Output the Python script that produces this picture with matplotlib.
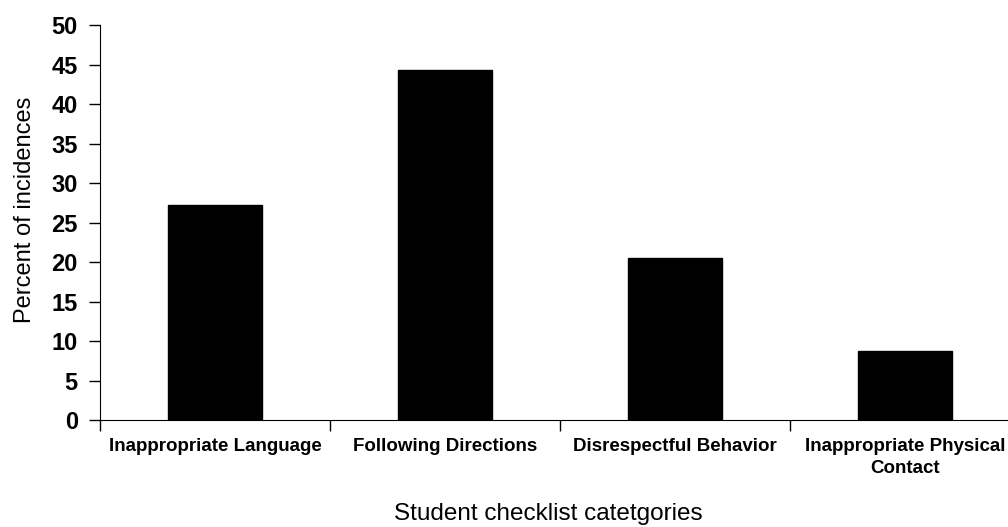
import matplotlib.pyplot as plt
import numpy as np

# Student checklist data
categories = ['Inappropriate Language', 'Following Directions',
              'Disrespectful Behavior', 'Inappropriate Physical\nContact']
percents = [27.2, 44.3, 20.5, 8.7]
y_ticks = list(range(0, 55, 5))

plt.rcParams['font.family'] = ['Liberation Sans', 'DejaVu Sans']

fig = plt.figure(figsize=(10.08, 5.27), dpi=100)
ax = fig.add_axes([0.0992, 0.2030, 0.9127, 0.7495])

x = np.arange(len(categories))
ax.bar(x, percents, width=0.41, color='black', edgecolor='black')

ax.set_xlim(-0.5, len(categories) - 0.5)
ax.set_ylim(0, 50)
ax.set_yticks(y_ticks)
ax.set_yticklabels([str(t) for t in y_ticks], fontsize=17, fontweight='bold')

# category ticks sit between the bars, labels centred under bars
ax.set_xticks(np.arange(len(categories) + 1) - 0.5)
ax.set_xticklabels([])
ax.set_xticks(x, minor=True)
ax.set_xticklabels(categories, minor=True, fontsize=13.5, fontweight='bold',
                   linespacing=1.4)
ax.tick_params(axis='x', which='minor', length=0, pad=13)
ax.tick_params(axis='x', which='major', length=8, width=1, direction='out')
ax.tick_params(axis='y', length=8, width=1, direction='out', pad=8)

ax.spines['top'].set_visible(False)
ax.spines['right'].set_visible(False)

fig.text(25 / 1008, 1 - 210 / 527, 'Percent of incidences', fontsize=17,
         rotation=90, ha='center', va='center')
fig.text(548 / 1008, 7 / 527, 'Student checklist catetgories', fontsize=17.5,
         ha='center', va='baseline')

fig.savefig('out.png', dpi=100)
